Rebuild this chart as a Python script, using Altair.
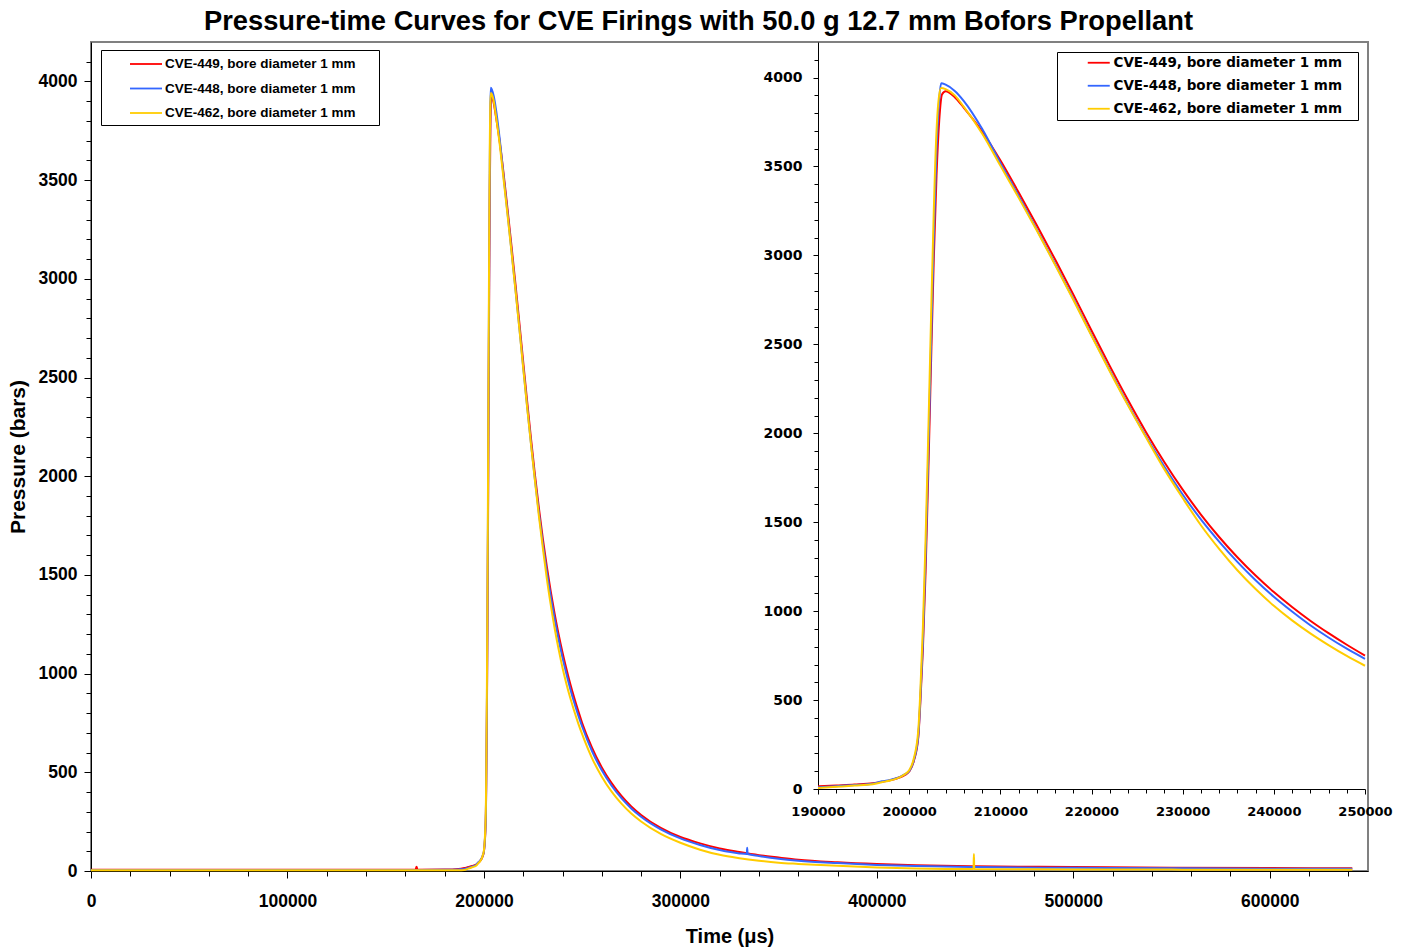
import altair as alt
import pandas as pd

SERIES = [
    "CVE-449, bore diameter 1 mm",
    "CVE-448, bore diameter 1 mm",
    "CVE-462, bore diameter 1 mm",
]
COLORS = ["#FF0000", "#3366FF", "#FFCC00"]

# Time (µs) and pressure (bars) for each firing
t_449 = [0, 20000, 40000, 60000, 80000, 100000, 120000, 140000, 160000, 165200, 165700, 166200,
         180000, 187000,
         190000, 192000, 194000, 196000, 197000, 198000, 199000, 199500,
         200000, 200500, 201000, 201200, 201500, 201800, 202100, 202400, 202700, 203000, 203300, 203600,
         204000, 205000, 206000,
         208000, 210000, 212000, 214000, 216000, 218000, 220000, 222000, 224000, 226000, 228000,
         230000, 232000, 234000, 236000, 238000, 240000, 242000, 244000, 246000, 248000, 250000,
         255000, 260000, 265000, 270000, 275000, 280000,
         290000, 300000, 310000, 320000, 330000, 340000, 350000, 360000,
         380000, 400000, 420000, 450000, 500000, 550000, 600000, 642000]
p_449 = [6, 6, 6, 6, 6, 6, 6, 6, 6, 6, 22, 6,
         7, 10,
         15, 20, 25, 32, 40, 50, 66, 78,
         98, 155, 290, 460, 780, 1220, 1780, 2400, 2980, 3450, 3760, 3905,
         3923, 3890, 3830,
         3697, 3535, 3355, 3170, 2978, 2781, 2578, 2379, 2187, 2005, 1837,
         1683, 1543, 1417, 1303, 1200, 1107, 1023, 946, 876, 811, 750,
         625, 525, 445, 380, 327, 284,
         218, 172, 140, 114, 96, 80, 68, 57,
         44, 35, 29, 24, 20, 17, 15, 14]

t_448 = [0, 20000, 40000, 60000, 80000, 100000, 120000, 140000, 160000, 180000, 187000,
         190000, 192000, 194000, 196000, 197000, 198000, 199000, 199500,
         200000, 200500, 201000, 201200, 201500, 201800, 202100, 202400, 202700, 203000, 203300,
         203500, 204000, 205000, 206000,
         208000, 210000, 212000, 214000, 216000, 218000, 220000, 222000, 224000, 226000, 228000,
         230000, 232000, 234000, 236000, 238000, 240000, 242000, 244000, 246000, 248000, 250000,
         255000, 260000, 265000, 270000, 275000, 280000,
         290000, 300000, 310000, 320000, 330000, 333800, 334000, 334200, 340000, 350000, 360000,
         380000, 400000, 420000, 450000, 500000, 550000, 600000, 642000]
p_448 = [5, 5, 5, 5, 5, 5, 5, 5, 5, 6, 8,
         10, 16, 22, 30, 43, 52, 68, 82,
         100, 160, 300, 480, 820, 1300, 1880, 2500, 3100, 3600, 3880,
         3968, 3960, 3925, 3868,
         3712, 3520, 3335, 3145, 2953, 2756, 2553, 2354, 2162, 1980, 1812,
         1656, 1516, 1391, 1277, 1174, 1081, 998, 921, 852, 789, 732,
         608, 510, 432, 369, 317, 275,
         211, 165, 132, 106, 89, 86, 118, 86, 76, 62, 52,
         40, 31, 25, 20, 16, 14, 12, 11]

t_462 = [0, 20000, 40000, 60000, 80000, 100000, 120000, 140000, 160000, 180000, 187000,
         190000, 192000, 194000, 196000, 197000, 198000, 199000, 199500,
         200000, 200500, 201000, 201200, 201500, 201800, 202100, 202400, 202700, 203000,
         203200, 203500, 204000, 205000, 206000,
         208000, 210000, 212000, 214000, 216000, 218000, 220000, 222000, 224000, 226000, 228000,
         230000, 232000, 234000, 236000, 238000, 240000, 242000, 244000, 246000, 248000, 250000,
         255000, 260000, 265000, 270000, 275000, 280000,
         290000, 300000, 310000, 320000, 330000, 340000, 350000, 360000, 380000, 400000, 420000,
         449200, 449400, 449600,
         500000, 550000, 600000, 642000]
p_462 = [4, 4, 4, 4, 4, 4, 4, 4, 4, 4, 4,
         5, 12, 19, 27, 38, 49, 67, 82,
         105, 170, 330, 520, 900, 1400, 2000, 2650, 3250, 3700,
         3860, 3941, 3935, 3900, 3835,
         3685, 3505, 3325, 3140, 2948, 2751, 2548, 2349, 2157, 1975, 1797,
         1636, 1483, 1350, 1230, 1124, 1030, 948, 875, 809, 748, 693,
         572, 478, 402, 341, 291, 251,
         188, 143, 108, 82, 65, 52, 42, 36, 26, 18, 13,
         10, 86, 10,
         8, 7, 6, 6]

frames = []
for name, ts, ps in zip(SERIES, [t_449, t_448, t_462], [p_449, p_448, p_462]):
    frames.append(pd.DataFrame({"t": ts, "p": ps, "series": name}))
df = pd.concat(frames, ignore_index=True)

ARIAL = "Liberation Sans"
WIDE = "DejaVu Sans"
W, H = 1277, 829

# tick positions
main_x_major = list(range(0, 600001, 100000))
main_x_minor = [v for v in range(0, 640001, 20000) if v % 100000]
main_y_major = list(range(0, 4001, 500))
main_y_minor = [v for v in range(0, 4200, 100) if v % 500]
inset_x_major = list(range(190000, 250001, 10000))
inset_x_minor = [v for v in range(190000, 250001, 2000) if v % 10000]
inset_y_major = list(range(0, 4001, 500))
inset_y_minor = [v for v in range(0, 4200, 100) if v % 500]

main_xs = alt.Scale(domain=[0, 650000], nice=False, zero=False)
main_ys = alt.Scale(domain=[0, 4200], nice=False)
# the enlarged view sits in the upper right of the main plot area
inset_xs = alt.Scale(domain=[190000, 250000], range=[727, 1274], nice=False, zero=False)
inset_ys = alt.Scale(domain=[0, 4200], range=[747, 0], nice=False)
color_scale = alt.Scale(domain=SERIES, range=COLORS)

# a blank title on the right gives the legend boxes their right-hand margin
main_legend = alt.Legend(
    title=" ", titleOrient="right", titlePadding=18, titleFontSize=2,
    orient="none", legendX=10, legendY=8,
    strokeColor="black", fillColor="white", padding=5, rowPadding=8.5,
    symbolType="M-2,0H2", symbolSize=256, symbolStrokeWidth=1.8, symbolOffset=31,
    labelOffset=10, labelFont=ARIAL, labelFontSize=13.5, labelFontWeight="bold",
    labelColor="black", labelLimit=400,
)
inset_legend = alt.Legend(
    title=" ", titleOrient="right", titlePadding=12, titleFontSize=2,
    orient="none", legendX=966, legendY=10,
    strokeColor="black", fillColor="white", padding=4, rowPadding=8,
    symbolType="M-2,0H2", symbolSize=121, symbolStrokeWidth=1.8, symbolOffset=31,
    labelOffset=8, labelFont=WIDE, labelFontSize=13.5, labelFontWeight="bold",
    labelColor="black", labelLimit=400,
)

main_lines = alt.Chart(df).mark_line(strokeWidth=2, interpolate="monotone").encode(
    x=alt.X("t:Q", scale=main_xs, axis=alt.Axis(
        orient="bottom", values=main_x_major, format="d", tickSize=7, labelPadding=14,
        labelFont=ARIAL, labelFontSize=17.5, labelFontWeight="bold", labelFlush=False,
        labelOverlap=False, title="Time (μs)", titleFont=ARIAL, titleFontSize=20,
        titleFontWeight="bold", titlePadding=17)),
    y=alt.Y("p:Q", scale=main_ys, axis=alt.Axis(
        orient="left", values=main_y_major, format="d", tickSize=7, labelPadding=7,
        labelFont=ARIAL, labelFontSize=17.5, labelFontWeight="bold", labelFlush=False,
        labelOverlap=False, title="Pressure (bars)", titleFont=ARIAL, titleFontSize=21,
        titleFontWeight="bold", titlePadding=10)),
    color=alt.Color("series:N", scale=color_scale, legend=main_legend),
)

main_minor = alt.Chart(df).mark_point(opacity=0).encode(
    x=alt.X("t:Q", scale=main_xs, axis=alt.Axis(
        orient="bottom", values=main_x_minor, labels=False, domain=False, tickSize=5, title=None)),
    y=alt.Y("p:Q", scale=main_ys, axis=alt.Axis(
        orient="left", values=main_y_minor, labels=False, domain=False, tickSize=5, title=None)),
)

inset_data = alt.Chart(df).transform_filter(alt.FieldRangePredicate(field="t", range=[190000, 250000]))

inset_lines = inset_data.mark_line(strokeWidth=2, interpolate="monotone").encode(
    x=alt.X("t:Q", scale=inset_xs, axis=alt.Axis(
        orient="bottom", offset=-82, values=inset_x_major, format="d", tickSize=5,
        labelPadding=11, labelFont=WIDE, labelFontSize=13, labelFontWeight="bold",
        labelFlush=False, labelOverlap=False, title=None)),
    y=alt.Y("p:Q", scale=inset_ys, axis=alt.Axis(
        orient="left", offset=-727, values=inset_y_major, format="d", tickSize=5,
        labelPadding=11, labelFont=WIDE, labelFontSize=14, labelFontWeight="bold",
        labelFlush=False, labelOverlap=False, title=None)),
    color=alt.Color("series:N", scale=color_scale, legend=inset_legend),
)

inset_minor = inset_data.mark_point(opacity=0).encode(
    x=alt.X("t:Q", scale=inset_xs, axis=alt.Axis(
        orient="bottom", offset=-82, values=inset_x_minor, labels=False, domain=False,
        tickSize=4, title=None)),
    y=alt.Y("p:Q", scale=inset_ys, axis=alt.Axis(
        orient="left", offset=-727, values=inset_y_minor, labels=False, domain=False,
        tickSize=4, title=None)),
)

chart = alt.layer(main_lines, main_minor, inset_lines, inset_minor).resolve_scale(
    x="independent", y="independent", color="independent"
).properties(
    width=W, height=H,
    padding={"left": 91, "top": 42, "right": 39, "bottom": 78},
    autosize=alt.AutoSizeParams(type="none"),
    title=alt.TitleParams(
        "Pressure-time Curves for CVE Firings with 50.0 g 12.7 mm Bofors Propellant",
        font=ARIAL, fontSize=27.3, fontWeight="bold", color="black",
        anchor="middle", dx=-31, offset=7),
).configure_axis(
    grid=False, domainColor="black", tickColor="black", labelColor="black",
    titleColor="black", domainWidth=1, tickWidth=1,
).configure_view(stroke="#808080", strokeWidth=2)

chart.save("out.html", embed_options={"renderer": "svg", "actions": False})
